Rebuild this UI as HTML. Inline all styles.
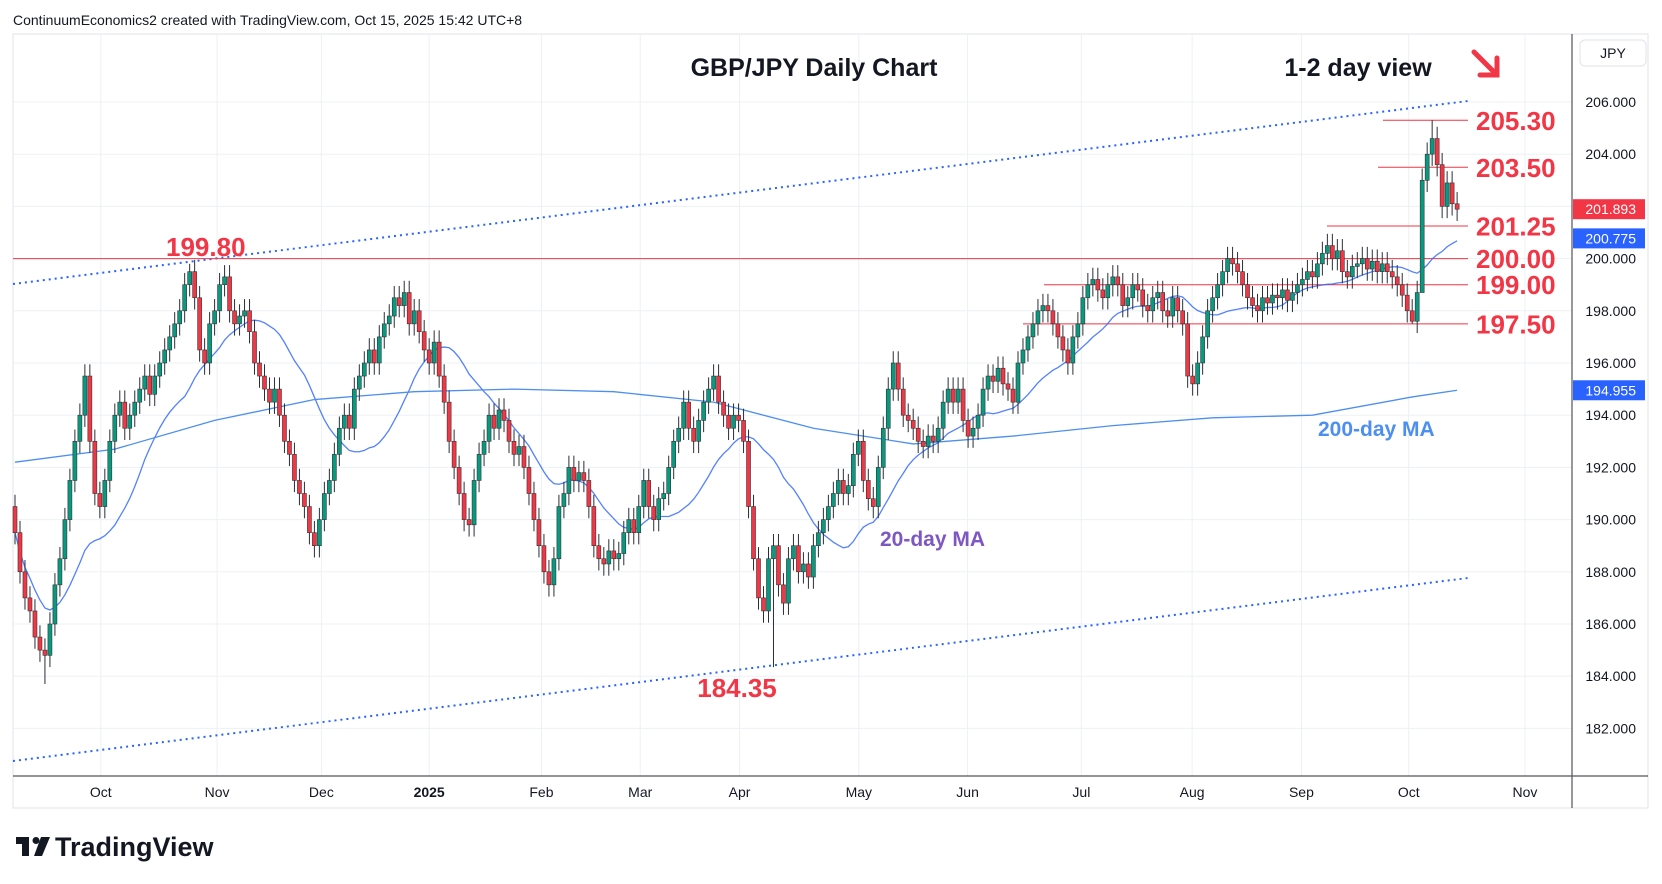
<!DOCTYPE html>
<html><head><meta charset="utf-8">
<style>
html,body{margin:0;padding:0;background:#fff;width:1662px;height:884px;overflow:hidden;font-family:"Liberation Sans",sans-serif;}
svg{position:absolute;left:0;top:0;}
</style></head>
<body>
<svg id="chart" width="1662" height="884" viewBox="0 0 1662 884" xmlns="http://www.w3.org/2000/svg">
<text x="13" y="25" font-size="14" fill="#131722" font-family="Liberation Sans, sans-serif">ContinuumEconomics2 created with TradingView.com, Oct 15, 2025 15:42 UTC+8</text>
<rect x="13" y="34" width="1635" height="774" fill="none" stroke="#e0e3eb" stroke-width="1"/>
<g id="grid"></g>
<g id="channel"></g>
<g id="levels"></g>
<g id="mas"></g>
<g id="candles"></g>
<g id="axis"></g>
<line x1="1572" y1="34" x2="1572" y2="808" stroke="#50535e" stroke-width="1.2"/>
<line x1="13" y1="776" x2="1648" y2="776" stroke="#50535e" stroke-width="1.2"/>
<g id="xaxis"></g>
<rect x="1580" y="40" width="66" height="26" rx="5" fill="#fff" stroke="#e0e3eb"/>
<text x="1613" y="58" font-size="14" text-anchor="middle" fill="#131722">JPY</text>
<text x="814" y="76" font-size="25" font-weight="bold" text-anchor="middle" fill="#131722">GBP/JPY Daily Chart</text>
<text x="1358" y="76" font-size="25" font-weight="bold" text-anchor="middle" fill="#131722">1-2 day view</text>
<g stroke="#f23645" stroke-width="5" fill="none" stroke-linecap="round">
<line x1="1474" y1="52" x2="1496" y2="74"/><polyline points="1480,75 1497,75 1497,58"/></g>
<text x="1318" y="436" font-size="21" font-weight="bold" fill="#4d8ff0">200-day MA</text>
<text x="880" y="546" font-size="21" font-weight="bold" fill="#7e57c2">20-day MA</text>
<text x="166" y="256" font-size="26" font-weight="bold" fill="#f23645">199.80</text>
<text x="737" y="697" font-size="26" font-weight="bold" text-anchor="middle" fill="#f23645">184.35</text>
<g>
<rect x="16" y="837" width="13" height="7" fill="#131722"/><rect x="22" y="837" width="7" height="19" fill="#131722"/>
<circle cx="36" cy="840.5" r="3.5" fill="#131722"/><polygon points="41,837 50,837 42,856 34,856" fill="#131722"/>
<text x="55" y="856" font-size="27" font-weight="bold" fill="#131722">TradingView</text></g>
</svg>
<script>
const closes=[189.5,188,187,186.5,185.5,185,184.8,186,187.5,188.5,190,191.5,193,194,195.5,193,191,190.5,
191.5,193,194,194.5,193.5,194,194.5,195,195.5,194.8,195.5,196,196.5,197,197.5,198,199,199.5,198.5,196.5,196,197.5,
198,199,199.3,198,197.5,197.8,198,197.2,196,195.5,195,194.5,195,194,193,192.5,191.5,191,190.5,189.5,189,
190,191,191.5,192.5,193.5,194,193.5,195,195.5,196,196.5,196,197,197.5,197.8,198.5,198.2,198.7,197.5,198,197.2,
196.5,196,196.8,195.5,194.5,193,192,191,190,189.8,191.5,192.5,193,194,193.5,194.2,193.8,193,192.5,192.8,192,191,
190,189,188,187.5,188.5,190.5,191,192,191.5,191.8,191.5,190.5,189,188.5,188.3,188.8,188.5,188.7,189.5,190,189.5,
190.5,191.5,190.5,190,190.8,191,192,193,193.5,194.5,193.5,193,193.8,194.5,195,195.5,194.5,194,193.5,194,193.8,
193,190.5,188.5,187,186.5,188.5,189,187.5,186.8,188.5,189,188,188.3,187.8,189,189.5,190,190.5,191,191.5,191,191.3,
192.5,193,191.5,190.8,190.5,192,193.5,195,196,195,194,193.8,193.5,193,192.8,193.2,193,193.5,194.5,195,194.5,
195,193.8,193.2,193.5,194,195,195.5,195.3,195.8,195.2,195,194.5,196,196.5,197,197.5,198,198.2,198,197.5,197,
196.5,196,197,197.5,198.5,199,199.2,198.8,198.5,199,199.3,199,198.2,198.5,199,198.8,198.2,198,198.5,198.7,198,197.8,
198.5,198,197.5,195.5,195.2,196,197,198,198.5,199,199.5,200,199.8,199.5,199,198.5,198.2,198,198.5,198.3,198.6,
198.5,198.8,198.4,198.7,199,199.2,199.5,199.3,199.8,200.2,200.5,200,200.3,199.5,199.3,199.7,199.8,200,199.6,199.9,199.5,
199.8,199.5,199.3,199,198.6,198,197.6,198.7,203,204,204.6,203.6,202,202.9,202.1,201.893];
const firstOpen=190.5;
const extremeIdx=[6,35,152,284,282,280];
const extremeVal=[183.7,199.8,184.35,205.3,200.3,197.5];
const ma200Idx=[0,20,40,60,80,100,120,140,160,180,200,220,240,260,280,289];
const ma200Val=[192.2,192.7,193.8,194.6,194.9,195.0,194.9,194.5,193.5,192.9,193.2,193.6,193.9,194.0,194.7,194.955];
const priceTicks=[206,204,202,200,198,196,194,192,190,188,186,184,182];
const monthLabels=["Oct","Nov","Dec","2025","Feb","Mar","Apr","May","Jun","Jul","Aug","Sep","Oct","Nov"];
const monthIdx=[17.2,40.5,61.4,83,105.5,125.3,145.2,169.1,190.9,213.7,235.9,257.8,279.3,302.6];
const levelVals=[205.30,203.50,201.25,200.00,199.00,197.50];
const levelStart=[1383,1378,1327,13,1044,1023];
const badgeVals=[201.893,200.775,194.955];
const badgeColors=["#f23645","#2962ff","#2962ff"];

const NS="http://www.w3.org/2000/svg";
const y=p=>102+(206-p)*26.1;
const x=i=>15+i*4.99;
function mk(parent,tag,attrs){const e=document.createElementNS(NS,tag);for(const k in attrs)e.setAttribute(k,attrs[k]);parent.appendChild(e);return e;}
const G=id=>document.getElementById(id);

priceTicks.forEach(p=>{const l=mk(G('grid'),'line',{x1:13,x2:1572,y1:y(p),y2:y(p),stroke:'#edf0f4'});

});
monthIdx.forEach((m,k)=>{const l=mk(G('grid'),'line',{x1:x(m),x2:x(m),y1:34,y2:776,stroke:'#edf0f4'});


const t=mk(G('xaxis'),'text',{x:x(m),y:797,'font-size':14,'text-anchor':'middle',fill:'#131722','font-weight':monthLabels[k]==='2025'?'bold':'normal'});
t.textContent=monthLabels[k];

});

[[284,101],[761,578]].forEach(c=>{const l=mk(G('channel'),'line',{x1:13,y1:c[0],x2:1468,y2:c[1],stroke:'#2962ff','stroke-width':2,'stroke-dasharray':'2 4'});

});

levelVals.forEach((v,k)=>{const l=mk(G('levels'),'line',{x1:levelStart[k],x2:1468,y1:y(v),y2:y(v),stroke:'#f23645','stroke-width':1});


const t=mk(G('levels'),'text',{x:1476,y:y(v)+9.5,'font-size':26,'font-weight':'bold',fill:'#f23645'});
t.textContent=v.toFixed(2);

});

let prev=firstOpen;
closes.forEach((c,i)=>{const o=prev;prev=c;
let hi=Math.max(o,c)+0.45,lo=Math.min(o,c)-0.45;
const e=extremeIdx.indexOf(i);if(e>=0){if(extremeVal[e]>Math.max(o,c))hi=extremeVal[e];else lo=extremeVal[e];}
const up=c>=o,col=up?'#089981':'#f23645';const g=mk(G('candles'),'g',{});


mk(g,'line',{x1:x(i),x2:x(i),y1:y(hi),y2:y(lo),stroke:'#2a2e39','stroke-width':1});
mk(g,'rect',{x:x(i)-2,y:y(Math.max(o,c)),width:4,height:Math.max(1,Math.abs(y(o)-y(c))),fill:col,stroke:'#333','stroke-width':0.6});});

let pts=[];closes.forEach((c,i)=>{const s=closes.slice(Math.max(0,i-19),i+1);pts.push(x(i)+','+y(s.reduce((a,b)=>a+b,0)/s.length));});
const m20=mk(G('mas'),'polyline',{points:pts.join(' '),fill:'none',stroke:'#2962ff','stroke-width':1.3,opacity:0.8});


const m200=mk(G('mas'),'polyline',{points:ma200Idx.map((m,k)=>x(m)+','+y(ma200Val[k])).join(' '),fill:'none',stroke:'#4d8ff0','stroke-width':1.3});



priceTicks.forEach(p=>{const t=mk(G('axis'),'text',{x:1636,y:y(p)+5,'font-size':14,'text-anchor':'end',fill:'#131722'});
t.textContent=p.toFixed(3);

});
badgeVals.forEach((v,k)=>{const g=mk(G('axis'),'g',{});


mk(g,'rect',{x:1573,y:y(v)-10,width:72,height:20,fill:badgeColors[k]});
const t=mk(g,'text',{x:1636,y:y(v)+5,'font-size':14,'text-anchor':'end',fill:'#fff'});t.textContent=v.toFixed(3);});
</script>
</body></html>
